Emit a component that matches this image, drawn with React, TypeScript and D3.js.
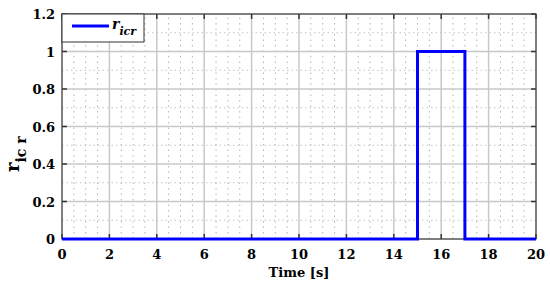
import React, { useEffect, useRef } from 'react';
import * as d3 from 'd3';

// step signal r_icr over time
const timeValues = [0, 15, 15, 17, 17, 20];
const rValues = [0, 0, 1, 1, 0, 0];
const xTicks = [0, 2, 4, 6, 8, 10, 12, 14, 16, 18, 20];
const yTicks = [0, 0.2, 0.4, 0.6, 0.8, 1, 1.2];
const xMinor = d3.range(0, 20.01, 0.5).filter((v) => v % 2 !== 0);
const yMinor = d3.range(0.1, 1.2, 0.2);

const App = () => {
  const svgRef = useRef<SVGSVGElement>(null);

  useEffect(() => {
    const svg = d3.select(svgRef.current);
    svg.selectAll('*').remove();

    const margin = { top: 14, right: 14, bottom: 48, left: 62 };
    const W = 550;
    const H = 287;
    const x = d3.scaleLinear().domain([0, 20]).range([margin.left, W - margin.right]);
    const y = d3.scaleLinear().domain([0, 1.2]).range([H - margin.bottom, margin.top]);
    const font = "'DejaVu Serif', serif";

    svg.append('rect').attr('width', W).attr('height', H).attr('fill', '#fff');

    // minor grid (dotted)
    const g = svg.append('g');
    g.selectAll('.xm')
      .data(xMinor)
      .enter()
      .append('line')
      .attr('x1', (d) => x(d))
      .attr('x2', (d) => x(d))
      .attr('y1', y(0))
      .attr('y2', y(1.2))
      .attr('stroke', '#b4b4b4')
      .attr('stroke-width', 1)
      .attr('stroke-dasharray', '1.5,4');
    g.selectAll('.ym')
      .data(yMinor)
      .enter()
      .append('line')
      .attr('x1', x(0))
      .attr('x2', x(20))
      .attr('y1', (d) => y(d))
      .attr('y2', (d) => y(d))
      .attr('stroke', '#c4c4c4')
      .attr('stroke-width', 1)
      .attr('stroke-dasharray', '1.5,3');

    // major grid
    g.selectAll('.xg')
      .data(xTicks)
      .enter()
      .append('line')
      .attr('x1', (d) => x(d))
      .attr('x2', (d) => x(d))
      .attr('y1', y(0))
      .attr('y2', y(1.2))
      .attr('stroke', '#c8c8c8')
      .attr('stroke-width', 1.5);
    g.selectAll('.yg')
      .data(yTicks)
      .enter()
      .append('line')
      .attr('x1', x(0))
      .attr('x2', x(20))
      .attr('y1', (d) => y(d))
      .attr('y2', (d) => y(d))
      .attr('stroke', '#c8c8c8')
      .attr('stroke-width', 1.5);

    // inward ticks on all four sides
    const tl = 5;
    const tk = svg.append('g').attr('stroke', '#333').attr('stroke-width', 1.5);
    xTicks.forEach((d) => {
      tk.append('line').attr('x1', x(d)).attr('x2', x(d)).attr('y1', y(0)).attr('y2', y(0) - tl);
      tk.append('line').attr('x1', x(d)).attr('x2', x(d)).attr('y1', y(1.2)).attr('y2', y(1.2) + tl);
    });
    yTicks.forEach((d) => {
      tk.append('line').attr('x1', x(0)).attr('x2', x(0) + tl).attr('y1', y(d)).attr('y2', y(d));
      tk.append('line').attr('x1', x(20)).attr('x2', x(20) - tl).attr('y1', y(d)).attr('y2', y(d));
    });

    // axis box
    svg
      .append('rect')
      .attr('x', x(0))
      .attr('y', y(1.2))
      .attr('width', x(20) - x(0))
      .attr('height', y(0) - y(1.2))
      .attr('fill', 'none')
      .attr('stroke', '#444')
      .attr('stroke-width', 1.2);

    // data line
    const line = d3
      .line<number>()
      .x((d, i) => x(timeValues[i]))
      .y((d) => y(d));
    svg
      .append('path')
      .datum(rValues)
      .attr('d', line)
      .attr('fill', 'none')
      .attr('stroke', '#0000ff')
      .attr('stroke-width', 3);

    // tick labels
    svg
      .append('g')
      .selectAll('text')
      .data(xTicks)
      .enter()
      .append('text')
      .attr('x', (d) => x(d))
      .attr('y', y(0) + 20)
      .attr('text-anchor', 'middle')
      .attr('font-family', font)
      .attr('font-weight', 'bold')
      .attr('font-size', 13)
      .text((d) => d);
    svg
      .append('g')
      .selectAll('text')
      .data(yTicks)
      .enter()
      .append('text')
      .attr('x', x(0) - 7)
      .attr('y', (d) => y(d) + 5)
      .attr('text-anchor', 'end')
      .attr('font-family', font)
      .attr('font-weight', 'bold')
      .attr('font-size', 13)
      .text((d) => d);

    // axis titles
    svg
      .append('text')
      .attr('x', (x(0) + x(20)) / 2)
      .attr('y', 277)
      .attr('text-anchor', 'middle')
      .attr('font-family', font)
      .attr('font-weight', 'bold')
      .attr('font-size', 13)
      .text('Time [s]');
    const yl = svg
      .append('text')
      .attr('transform', 'translate(19,172) rotate(-90)')
      .attr('text-anchor', 'start')
      .attr('font-family', font)
      .attr('font-weight', 'bold');
    yl.append('tspan').attr('font-size', 18).text('r');
    yl.append('tspan').attr('font-size', 14).attr('dy', 7).text('ic r');

    // legend
    const lg = svg.append('g');
    lg.append('rect')
      .attr('x', x(0))
      .attr('y', y(1.2))
      .attr('width', 82)
      .attr('height', 28)
      .attr('fill', '#fff')
      .attr('stroke', '#333')
      .attr('stroke-width', 1);
    lg.append('line')
      .attr('x1', x(0) + 10)
      .attr('x2', x(0) + 47)
      .attr('y1', y(1.2) + 12)
      .attr('y2', y(1.2) + 12)
      .attr('stroke', '#0000ff')
      .attr('stroke-width', 3);
    const lt = lg
      .append('text')
      .attr('x', x(0) + 50)
      .attr('y', y(1.2) + 15)
      .attr('font-family', font)
      .attr('font-style', 'italic')
      .attr('font-weight', 'bold');
    lt.append('tspan').attr('font-size', 14).text('r');
    lt.append('tspan').attr('font-size', 11).attr('dy', 6).text('icr');
  }, []);

  return (
    <svg
      ref={svgRef}
      width={550}
      height={287}
      style={{ position: 'absolute', left: 0, top: 0, display: 'block' }}
    />
  );
};

export default App;
